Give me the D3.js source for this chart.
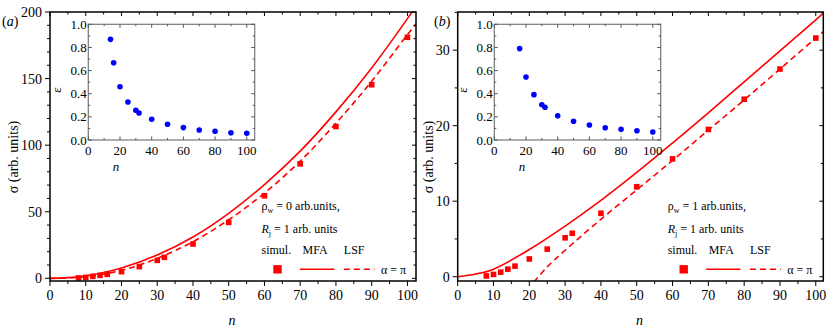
<!DOCTYPE html>
<html>
<head>
<meta charset="utf-8">
<script src="https://cdn.jsdelivr.net/npm/d3@7"></script>
<style>
  body { margin: 0; background: #fff; }
  text { font-family: 'Liberation Serif', 'Times New Roman', serif; }
</style>
</head>
<body>
<div id="chart"></div>
<script>
// simulation points (same n for both panels)
var nSim = [8, 10, 12, 14, 16, 20, 25, 30, 32, 40, 50, 60, 70, 80, 90, 100];
var sigmaSimA = [0.3, 0.7, 1.5, 2.2, 3.0, 5, 8.8, 13.5, 15.8, 25.8, 42, 62, 86, 114, 145.4, 181];
var sigmaSimB = [0.1, 0.3, 0.6, 1.0, 1.4, 2.35, 3.65, 5.15, 5.75, 8.4, 11.9, 15.6, 19.5, 23.5, 27.5, 31.6];

// MFA (solid) and LSF (dashed) curves
var nMfa = [0, 5, 10, 20, 30, 40, 50, 60, 70, 80, 90, 100, 103];
var sigmaMfaA = [0, 0.5, 1.9, 7.8, 17.5, 31, 48.8, 70.4, 95.5, 125, 158, 195, 207];
var sigmaMfaB = [0, 0.35, 1.0, 3.6, 6.7, 10.1, 13.8, 17.7, 21.7, 25.8, 29.9, 34.0, 35.3];

var nLsfA = [0, 5, 10, 20, 30, 40, 50, 60, 70, 80, 90, 100, 103];
var sigmaLsfA = [0, 0.4, 1.2, 6, 15, 27.5, 44, 64, 88, 116.5, 148, 183, 193];
var nLsfB = [21.3, 25, 30, 40, 50, 60, 70, 80, 90, 100, 103];
var sigmaLsfB = [-0.7, 1.3, 3.5, 7.6, 11.5, 15.4, 19.4, 23.4, 27.5, 31.6, 32.8];

// insets: epsilon vs n
var nEpsA = [14, 16, 20, 25, 30, 32, 40, 50, 60, 70, 80, 90, 100];
var epsA = [0.87, 0.668, 0.46, 0.328, 0.257, 0.233, 0.179, 0.136, 0.107, 0.086, 0.075, 0.063, 0.058];
var nEpsB = [16, 20, 25, 30, 32, 40, 50, 60, 70, 80, 90, 100];
var epsB = [0.79, 0.545, 0.392, 0.305, 0.283, 0.21, 0.162, 0.13, 0.106, 0.092, 0.08, 0.069];

// tick values
var xMajor = d3.range(0, 101, 10);
var xMinor = d3.range(5, 101, 10);
var yMajorA = [0, 50, 100, 150, 200];
var yMinorA = d3.range(10, 200, 10).filter(function(v) { return v % 50 !== 0; });
var yMajorB = [0, 10, 20, 30];
var yMinorB = [5, 15, 25, 35];
var insetXMajor = [0, 20, 40, 60, 80, 100];
var insetXMinor = [10, 30, 50, 70, 90];
var insetYMajor = [0, 0.2, 0.4, 0.6, 0.8, 1.0];
var insetYMinor = [0.1, 0.3, 0.5, 0.7, 0.9];

var red = "#ff0000";
var blue = "#0000ff";
var serif = "'Liberation Serif', 'Times New Roman', serif";

var svg = d3.select("#chart").append("svg")
    .attr("width", 830)
    .attr("height", 332);

var zip = function(xs, ys) {
    return xs.map(function(x, i) { return [x, ys[i]]; });
};

var seg = function(g, x1, y1, x2, y2, color) {
    g.append("line")
        .attr("x1", x1).attr("y1", y1)
        .attr("x2", x2).attr("y2", y2)
        .attr("stroke", color).attr("stroke-width", 1);
};

var label = function(g, x, y, size) {
    return g.append("text")
        .attr("x", x).attr("y", y)
        .attr("font-size", size)
        .style("font-family", serif);
};

var drawPanel = function(p) {
    var g = svg.append("g");
    var x = d3.scaleLinear().domain(p.xDomain).range([p.left, p.right]);
    var y = d3.scaleLinear().domain(p.yDomain).range([p.bottom, p.top]);

    var clipId = "clip" + p.tag;
    svg.append("clipPath").attr("id", clipId)
        .append("rect")
        .attr("x", p.left).attr("y", p.top)
        .attr("width", p.right - p.left).attr("height", p.bottom - p.top);

    var line = d3.line()
        .x(function(d) { return x(d[0]); })
        .y(function(d) { return y(d[1]); })
        .curve(d3.curveCatmullRom.alpha(0.5));

    var plot = g.append("g").attr("clip-path", "url(#" + clipId + ")");
    plot.append("path")
        .attr("d", line(zip(nMfa, p.mfa)))
        .attr("fill", "none").attr("stroke", red).attr("stroke-width", 1.6);
    plot.append("path")
        .attr("d", line(zip(p.nLsf, p.lsf)))
        .attr("fill", "none").attr("stroke", red).attr("stroke-width", 1.6)
        .attr("stroke-dasharray", "6,4");
    plot.selectAll("rect.sim")
        .data(zip(nSim, p.sim))
        .enter().append("rect")
        .attr("class", "sim")
        .attr("x", function(d) { return x(d[0]) - 2.8; })
        .attr("y", function(d) { return y(d[1]) - 2.8; })
        .attr("width", 5.6).attr("height", 5.6)
        .attr("fill", red);

    // frame; ticks out on bottom/left, in on top/right
    g.append("rect")
        .attr("x", p.left).attr("y", p.top)
        .attr("width", p.right - p.left).attr("height", p.bottom - p.top)
        .attr("fill", "none").attr("stroke", "#000").attr("stroke-width", 1.5);
    xMajor.forEach(function(v) {
        seg(g, x(v), p.bottom, x(v), p.bottom + 5, "#000");
        seg(g, x(v), p.top, x(v), p.top + 4, "#000");
    });
    xMinor.forEach(function(v) {
        seg(g, x(v), p.bottom, x(v), p.bottom + 3, "#000");
        seg(g, x(v), p.top, x(v), p.top + 2.5, "#000");
    });
    p.yMajor.forEach(function(v) {
        seg(g, p.left, y(v), p.left - 5, y(v), "#000");
        seg(g, p.right, y(v), p.right - 4, y(v), "#000");
    });
    p.yMinor.forEach(function(v) {
        seg(g, p.left, y(v), p.left - 3, y(v), "#000");
        seg(g, p.right, y(v), p.right - 2.5, y(v), "#000");
    });

    xMajor.forEach(function(v) {
        label(g, x(v), p.bottom + 19, 14).attr("text-anchor", "middle").text(v);
    });
    p.yMajor.forEach(function(v) {
        label(g, p.left - 8, y(v) + 5, 14).attr("text-anchor", "end").text(v);
    });

    label(g, (p.left + p.right) / 2 - 1, 325, 14)
        .attr("text-anchor", "middle").attr("font-style", "italic").text("n");
    label(g, 0, 0, 14)
        .attr("transform", "translate(" + p.yLabelX + ",157) rotate(-90)")
        .attr("text-anchor", "middle")
        .text("σ (arb. units)");

    var tag = label(g, p.tagX, 26, 14);
    tag.append("tspan").text("(");
    tag.append("tspan").attr("font-style", "italic").text(p.tag);
    tag.append("tspan").text(")");

    // legend block
    var lx = p.legendX;
    var t1 = label(g, lx, 210, 12);
    t1.append("tspan").text("ρ");
    t1.append("tspan").attr("font-size", 8).attr("dy", 3).text("w");
    t1.append("tspan").attr("dy", -3).text(" = " + p.rho + " arb.units,");
    var t2 = label(g, lx, 233, 12);
    t2.append("tspan").attr("font-style", "italic").text("R");
    t2.append("tspan").attr("font-size", 8).attr("dy", 3).text("j");
    t2.append("tspan").attr("dy", -3).text(" = 1 arb. units");
    label(g, lx, 254, 12).text("simul.");
    label(g, lx + 41, 254, 12).text("MFA");
    label(g, lx + 82.3, 254, 12).text("LSF");
    g.append("rect")
        .attr("x", lx + 16 - 4.2).attr("y", 269.3 - 4.2)
        .attr("width", 8.4).attr("height", 8.4).attr("fill", red);
    g.append("line")
        .attr("x1", lx + 38.5).attr("x2", lx + 72.8)
        .attr("y1", 269.3).attr("y2", 269.3)
        .attr("stroke", red).attr("stroke-width", 1.6);
    g.append("line")
        .attr("x1", lx + 82.3).attr("x2", lx + 113)
        .attr("y1", 269.3).attr("y2", 269.3)
        .attr("stroke", red).attr("stroke-width", 1.6)
        .attr("stroke-dasharray", "6,4");
    label(g, lx + 119.5, 273.5, 12).text("α = π");

    // inset
    var ix = d3.scaleLinear().domain([0, 105]).range([p.insetLeft, p.insetLeft + 166.4]);
    var iy = d3.scaleLinear().domain([0, 1]).range([140, 24.3]);
    var ig = g.append("g");
    ig.append("rect")
        .attr("x", ix.range()[0]).attr("y", 24.3)
        .attr("width", 166.4).attr("height", 115.7)
        .attr("fill", "#fff").attr("stroke", "#777").attr("stroke-width", 1.2);
    insetXMajor.concat(insetXMinor).forEach(function(v, i) {
        var l = i < insetXMajor.length ? 3.5 : 2;
        seg(ig, ix(v), 140, ix(v), 140 - l, "#555");
        seg(ig, ix(v), 24.3, ix(v), 24.3 + l, "#555");
    });
    insetYMajor.concat(insetYMinor).forEach(function(v, i) {
        var l = i < insetYMajor.length ? 3.5 : 2;
        seg(ig, ix.range()[0], iy(v), ix.range()[0] + l, iy(v), "#555");
        seg(ig, ix.range()[1], iy(v), ix.range()[1] - l, iy(v), "#555");
    });
    ig.selectAll("circle")
        .data(zip(p.nEps, p.eps))
        .enter().append("circle")
        .attr("cx", function(d) { return ix(d[0]); })
        .attr("cy", function(d) { return iy(d[1]); })
        .attr("r", 2.8).attr("fill", blue);
    insetXMajor.forEach(function(v) {
        label(ig, ix(v), 155, 13).attr("text-anchor", "middle").text(v);
    });
    insetYMajor.forEach(function(v) {
        label(ig, ix.range()[0] - 1.5, iy(v) + 4.5, 13)
            .attr("text-anchor", "end").text(v.toFixed(1));
    });
    label(ig, ix(17.5), 171, 13)
        .attr("text-anchor", "middle").attr("font-style", "italic").text("n");
    label(ig, 0, 0, 13)
        .attr("transform", "translate(" + (p.insetLeft - 27) + ",90) rotate(-90)")
        .attr("text-anchor", "middle")
        .text("ε");
};

drawPanel({
    tag: "a", left: 50, right: 416, top: 12, bottom: 281,
    xDomain: [0, 102.4], yDomain: [-2, 200],
    yMajor: yMajorA, yMinor: yMinorA,
    sim: sigmaSimA, mfa: sigmaMfaA, nLsf: nLsfA, lsf: sigmaLsfA,
    nEps: nEpsA, eps: epsA, insetLeft: 88.3,
    rho: 0, legendX: 261.5, tagX: 2, yLabelX: 18
});

drawPanel({
    tag: "b", left: 457.7, right: 823.3, top: 12, bottom: 281,
    xDomain: [0, 102.1], yDomain: [-0.57, 35.05],
    yMajor: yMajorB, yMinor: yMinorB,
    sim: sigmaSimB, mfa: sigmaMfaB, nLsf: nLsfB, lsf: sigmaLsfB,
    nEps: nEpsB, eps: epsB, insetLeft: 494.3,
    rho: 1, legendX: 667.7, tagX: 434, yLabelX: 433
});
</script>
</body>
</html>
